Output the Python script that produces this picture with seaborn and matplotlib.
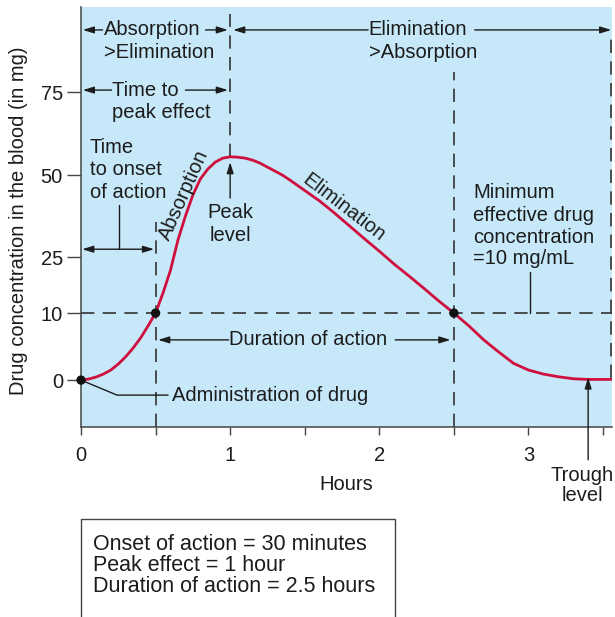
import numpy as np
import matplotlib
matplotlib.use("Agg")
import matplotlib.pyplot as plt
import seaborn as sns
import pandas as pd
from matplotlib.patches import Rectangle

# Drug concentration curve after a single dose
hours = [0.00, 0.05, 0.10, 0.15, 0.20, 0.25, 0.30, 0.35, 0.40, 0.45, 0.50,
         0.55, 0.60, 0.65, 0.70, 0.75, 0.80, 0.85, 0.90, 0.95, 1.00,
         1.05, 1.10, 1.15, 1.20, 1.25, 1.30, 1.35, 1.40, 1.50, 1.60,
         1.70, 1.80, 1.90, 2.00, 2.10, 2.20, 2.30, 2.40, 2.50, 2.60,
         2.70, 2.80, 2.90, 3.00, 3.10, 3.20, 3.30, 3.40, 3.56]
concentration = [0.0, 0.15, 0.45, 0.9, 1.5, 2.4, 3.5, 4.8, 6.3, 8.1, 10.0,
                 15.4, 21.5, 30.2, 37.5, 43.9, 48.8, 51.8, 53.9, 55.1, 55.5,
                 55.4, 55.1, 54.5, 53.6, 52.4, 51.2, 50.0, 48.5, 45.3, 42.1,
                 38.4, 34.5, 30.6, 26.8, 23.1, 19.9, 16.6, 13.2, 10.0, 8.1,
                 6.0, 4.2, 2.5, 1.5, 0.9, 0.5, 0.2, 0.1, 0.1]

# Key events
event_hours = [0.0, 0.5, 2.5]
event_conc = [0.0, 10.0, 10.0]
onset_time = 0.5
peak_time = 1.0
end_time = 2.5
min_effective = 10
trough_time = 3.4

y_ticks = [0, 10, 25, 50, 75]
x_ticks = [0, 1, 2, 3]
x_minor = [0.5, 1.5, 2.5, 3.5]

summary_lines = ["Onset of action = 30 minutes",
                 "Peak effect = 1 hour",
                 "Duration of action = 2.5 hours"]

df = pd.DataFrame({"Hours": hours, "Concentration": concentration})
events = pd.DataFrame({"Hours": event_hours, "Concentration": event_conc})

sns.set_theme(style="white")
plt.rcParams["font.family"] = ["Liberation Sans", "DejaVu Sans"]

INK = "#1c1c1c"
GRID = "#333333"
BG = "#c6e8f8"
CURVE = "#cf0f3e"
FS = 14.5

fig = plt.figure(figsize=(6.15, 6.17), dpi=100)
ax = fig.add_axes([81 / 615, 190 / 617, 531 / 615, 420 / 617])
ax.set_facecolor(BG)

# Schematic (non-linear) concentration axis
conc_knots = [-40, 0, 10, 25, 50, 75, 140]
axis_knots = [-268, 0, 67, 123, 205, 288, 504]


def fwd(v):
    return np.interp(v, conc_knots, axis_knots)


def inv(p):
    return np.interp(p, axis_knots, conc_knots)


ax.set_yscale("function", functions=(fwd, inv))

# Reference dashed lines
dash = dict(color=GRID, lw=1.2, linestyle=(0, (8, 5)), clip_on=False, zorder=2)
ax.plot([0, 3.56], [min_effective, min_effective], **dash)
ax.plot([onset_time, onset_time], [-7.0, 35.8], **dash)
ax.plot([peak_time, peak_time], [55.5, 98.5], **dash)
ax.plot([end_time, end_time], [-7.0, 81.0], **dash)
ax.plot([3.55, 3.55], [0.3, 93.0], **dash)

sns.lineplot(data=df, x="Hours", y="Concentration", color=CURVE, lw=2.0,
             ax=ax, zorder=3, sort=False, estimator=None)
sns.scatterplot(data=events, x="Hours", y="Concentration", color="#111111",
                s=45, edgecolor="none", ax=ax, zorder=4, clip_on=False)

ax.set_xlim(0, 3.56)
ax.set_ylim(-7.0, 100.6)
ax.set_xticks(x_ticks)
ax.set_xticks(x_minor, minor=True)
ax.set_yticks(y_ticks)
ax.set_xticklabels([str(t) for t in x_ticks])
ax.set_yticklabels([str(t) for t in y_ticks])
ax.tick_params(axis="y", which="major", direction="out", length=10, width=1,
               color="#444444", pad=3, labelsize=FS, labelcolor=INK, left=True)
ax.tick_params(axis="x", which="both", direction="out", length=5.5, width=1,
               color="#444444", pad=8, labelsize=FS, labelcolor=INK, bottom=True)
for side in ["top", "right"]:
    ax.spines[side].set_visible(False)
for side in ["left", "bottom"]:
    ax.spines[side].set_color("#444444")
    ax.spines[side].set_linewidth(1.1)

ax.set_xlabel("Hours", fontsize=FS, color=INK)
ax.xaxis.set_label_coords(0.5, (427 - 475) / 420)
ax.set_ylabel("Drug concentration in the blood (in mg)", fontsize=FS,
              color=INK)
ax.yaxis.set_label_coords((28 - 81) / 531, (427 - 221) / 420)

arrow = dict(arrowstyle="-|>,head_length=0.55,head_width=0.17", color=INK,
             lw=1.0, shrinkA=0, shrinkB=0)


def arr(tip, start):
    ax.annotate("", xy=tip, xytext=start, arrowprops=arrow,
                annotation_clip=False)


def txt(x, y, s, **kw):
    opts = dict(fontsize=FS, color=INK, va="center", ha="left")
    opts.update(kw)
    ax.text(x, y, s, **opts)


# Absorption > Elimination phase
txt(0.155, 93.7, "Absorption")
txt(0.155, 87.0, ">Elimination")
arr((0.012, 93.7), (0.145, 93.7))
arr((0.985, 93.7), (0.835, 93.7))

# Elimination > Absorption phase
txt(1.93, 93.7, "Elimination")
txt(1.93, 87.0, ">Absorption")
arr((1.02, 93.7), (1.925, 93.7))
arr((3.555, 93.7), (2.64, 93.7))

# Time to peak effect
txt(0.21, 75.6, "Time to")
txt(0.21, 68.7, "peak effect")
arr((0.012, 75.6), (0.205, 75.6))
arr((0.985, 75.6), (0.70, 75.6))

# Time to onset of action
txt(0.06, 58.4, "Time")
txt(0.06, 51.6, "to onset")
txt(0.06, 44.8, "of action")
ax.plot([0.255, 0.255], [27.4, 40.9], color=INK, lw=1.0, clip_on=False)
arr((0.008, 27.4), (0.255, 27.4))
arr((0.49, 27.4), (0.255, 27.4))

# Curve labels
txt(0.69, 43.9, "Absorption", rotation=66, ha="center", rotation_mode="anchor")
txt(1.765, 40.2, "Elimination", rotation=-37.5, ha="center",
    rotation_mode="anchor")

# Peak level
txt(peak_time, 38.7, "Peak", ha="center")
txt(peak_time, 31.7, "level", ha="center")
arr((peak_time, 53.9), (peak_time, 43.0))

# Minimum effective concentration
txt(2.63, 44.8, "Minimum")
txt(2.63, 37.8, "effective drug")
txt(2.63, 31.1, "concentration")
txt(2.63, 24.5, "=10 mg/mL")
ax.plot([3.013, 3.013], [min_effective, 21.0], color=INK, lw=1.0)

# Duration of action
txt(1.52, 6.0, "Duration of action", ha="center")
arr((0.517, 6.0), (0.99, 6.0))
arr((2.477, 6.0), (2.107, 6.0))

# Administration of drug
ax.plot([0.0, 0.242, 0.584], [0.0, -2.24, -2.24], color=INK, lw=1.0,
        clip_on=False, zorder=2)
txt(0.611, -2.24, "Administration of drug")

# Trough level
arr((trough_time, 0.4), (trough_time, -11.9))
txt(3.36, -14.2, "Trough", ha="center")
txt(3.36, -17.2, "level", ha="center")

# Summary box
fig.patches.append(Rectangle((81 / 615, -0.02), 314 / 615, (617 - 519) / 617 + 0.02,
                             transform=fig.transFigure, fill=False,
                             edgecolor="#444444", lw=1.0))
for i, line in enumerate(summary_lines):
    fig.text(93 / 615, 1 - (544 + 21.5 * i) / 617, line, fontsize=15.5,
             color=INK, va="center", ha="left")

fig.savefig("out.png", dpi=100)
